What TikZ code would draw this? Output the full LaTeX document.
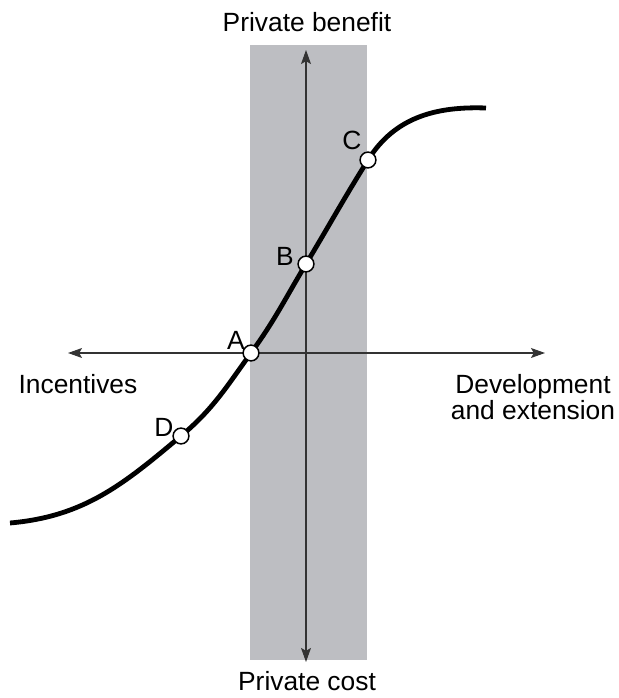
\documentclass[tikz,border=0pt]{standalone}
\usepackage{fontspec}
\setmainfont{Liberation Sans}
\usetikzlibrary{positioning,arrows.meta}
\definecolor{band}{HTML}{BDBEC2}
\definecolor{axisc}{HTML}{333333}
\tikzset{
  lab/.style={font=\fontsize{22.5}{22.5}\selectfont, align=center, inner sep=0pt},
  axis/.style={draw=axisc, line width=0.9pt, {Stealth[length=12pt,width=8.5pt,inset=2.5pt]}-{Stealth[length=12pt,width=8.5pt,inset=2.5pt]}},
  curve/.style={draw=black, line width=4.1pt},
  pt/.style={circle, draw=black, fill=white, line width=1.3pt, minimum size=13.5pt, inner sep=0pt},
}
\begin{document}
\begin{tikzpicture}[x=0.03cm, y=0.03cm]
    \useasboundingbox (0,0) rectangle (619,698);
    % shaded band
    \fill[band] (250,38) rectangle (367,653);
    % axes
    \coordinate (top) at (306,648);
    \coordinate (bot) at (306,36);
    \coordinate (lft) at (68,345);
    \coordinate (rgt) at (545,345);
    \draw[axis] (bot) -- (top);
    \draw[axis] (lft) -- (rgt);
    % curve
    \coordinate (s) at (10,175);
    \coordinate (d) at (181,262);
    \coordinate (a) at (251,345);
    \coordinate (b) at (306,434);
    \coordinate (c) at (368,538);
    \coordinate (e) at (486,590);
    \draw[curve] (s) to[out=5,in=-140] (d) to[out=40,in=-126] (a)
      to[out=54,in=-121] (b) to[out=59,in=-122] (c) to[out=58,in=178] (e);
    \node[pt] (ptA) at (a) {};
    \node[pt] (ptB) at (b) {};
    \node[pt] (ptC) at (c) {};
    \node[pt] (ptD) at (d) {};
    % labels
    \node[lab] (la) at (236,358) {A};
    \node[lab] (lb) at (285,442) {B};
    \node[lab] (lc) at (352,558) {C};
    \node[lab] (ld) at (164,271) {D};
    \node[lab] (ben) at (307,676) {Private benefit};
    \node[lab] (cost) at (307,17) {Private cost};
    \node[lab] (inc) at (78,314) {Incentives};
    \node[lab] (dev) at (533,301) {Development\\and extension};
\end{tikzpicture}
\end{document}
